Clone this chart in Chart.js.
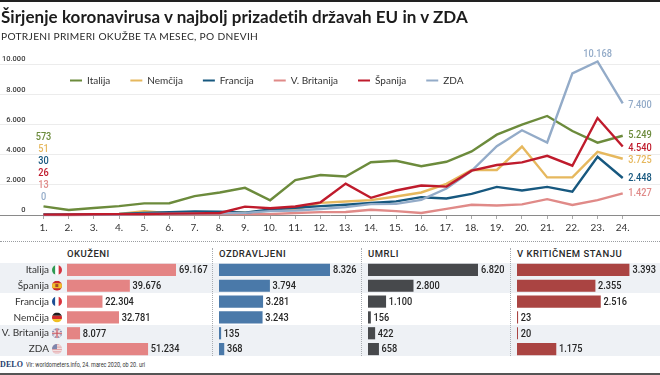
<!DOCTYPE html>
<html lang="sl"><head><meta charset="utf-8">
<style>
html,body{margin:0;padding:0;background:#fff;width:660px;height:375px;overflow:hidden}
#wrap{position:relative;width:660px;height:375px;font-family:Lato,"Open Sans",sans-serif;color:#222}
canvas{position:absolute;display:block}
.abs{position:absolute;white-space:nowrap}
#title{left:1px;top:6px;font:700 17px Lato,sans-serif;color:#1c1c1c;letter-spacing:.05px}
#sub{left:1px;top:30px;font:400 10.2px Lato,sans-serif;color:#2a2a2a;letter-spacing:.3px}
.head{top:248px;font:500 9.5px Roboto,sans-serif;color:#2a2a2a;letter-spacing:.5px}
.stripe{position:absolute;left:0;width:660px;background:#eef1f5}
.vd{position:absolute;top:248px;height:108px;width:0;border-left:1px dotted #a9adb2}
#src{left:26px;top:361px;font:400 7px Roboto,sans-serif;color:#333;transform:scaleX(.78);transform-origin:left center}
#delo{left:0;top:360px;font:700 8px "Liberation Serif",serif;color:#24406e;letter-spacing:.1px}
</style></head><body>
<div id="wrap">
<div style="position:absolute;left:0;top:0;width:660px;height:1.5px;background:#222"></div>
<div style="position:absolute;left:0;top:241px;width:660px;height:0;border-top:1px dotted #9a9da1"></div>
<div class="stripe" style="top:262.5px;height:30.5px"></div>
<div class="stripe" style="top:325px;height:31px"></div>
<div class="vd" style="left:212px"></div><div class="vd" style="left:361px"></div><div class="vd" style="left:510px"></div>
<div style="position:absolute;left:0;top:373px;width:660px;height:2px;background:#555"></div>
<canvas id="line" width="660" height="240" style="left:0;top:0"></canvas>
<canvas id="b0" width="212" height="95" style="left:0;top:262px"></canvas>
<canvas id="b1" width="142" height="95" style="left:219px;top:262px"></canvas>
<canvas id="b2" width="142" height="95" style="left:368px;top:262px"></canvas>
<canvas id="b3" width="142" height="95" style="left:517px;top:262px"></canvas>
<div class="abs" id="title">Širjenje koronavirusa v najbolj prizadetih državah EU in v ZDA</div>
<div class="abs" id="sub">POTRJENI PRIMERI OKUŽBE TA MESEC, PO DNEVIH</div>
<div class="abs head" style="left:67px">OKUŽENI</div>
<div class="abs head" style="left:219px">OZDRAVLJENI</div>
<div class="abs head" style="left:368px">UMRLI</div>
<div class="abs head" style="left:517px">V KRITIČNEM STANJU</div>
<div class="abs" id="delo">DELO</div>
<div class="abs" id="src">Vir: worldometers.info, 24. marec 2020, ob 20. uri</div>
</div>
<script src="https://cdn.jsdelivr.net/npm/chart.js@4"></script>
<script>
const days = ['1.','2.','3.','4.','5.','6.','7.','8.','9.','10.','11.','12.','13.','14.','15.','16.','17.','18.','19.','20.','21.','22.','23.','24.'];
const yTicks = [0,2000,4000,6000,8000,10000];

const italija  = [573,335,466,587,769,778,1247,1492,1797,977,2313,2651,2547,3497,3590,3233,3526,4207,5322,5986,6557,5560,4789,5249];
const nemcija  = [51,29,37,66,250,120,130,180,160,300,360,800,895,985,1225,1490,2060,2980,2980,4530,2490,2490,4180,3725];
const francija = [30,30,60,70,140,190,240,220,150,360,480,590,680,790,900,1180,1090,1400,1860,1620,1860,1550,3850,2448];
const britanija= [13,4,12,30,30,40,50,70,60,60,130,190,200,350,260,130,410,680,630,700,1050,660,980,1427];
const spanija  = [26,30,50,60,60,90,110,130,557,450,560,840,2079,1138,1620,1950,1880,2935,3310,3487,3920,3265,6420,4540];
const zda      = [0,20,20,30,70,80,100,120,140,260,300,400,520,720,740,1005,1750,2930,4560,5610,4800,9380,10168,7400];

const rows = ['Italija','Španija','Francija','Nemčija','V. Britanija','ZDA'];
const okuzeni     = [69167,39676,22304,32781,8077,51234];
const ozdravljeni = [8326,3794,3281,3243,135,368];
const umrli       = [6820,2800,1100,156,422,658];
const kriticni    = [3393,2355,2516,23,20,1175];

const fmt = v => String(v).replace(/\B(?=(\d{3})+(?!\d))/g,'.');
const NUM_FONT = '500 11.5px Roboto,sans-serif';
function narrowText(x,t,px,py,align){
 x.save(); x.translate(px,py); x.scale(.8,1); x.textAlign=align; x.textBaseline='middle'; x.font=NUM_FONT;
 x.fillText(t,0,0); x.restore();
}

const series = [
 {label:'Italija', data:italija, color:'#6c8b3c', order:5, nudge:-1},
 {label:'Nemčija', data:nemcija, color:'#e6b85e', order:4, nudge:1.5},
 {label:'Francija',data:francija,color:'#17587f', order:2, nudge:0.5},
 {label:'V. Britanija',data:britanija,color:'#e08a88', order:3, nudge:-0.5},
 {label:'Španija', data:spanija, color:'#bf1b2c', order:0, nudge:2},
 {label:'ZDA',     data:zda,     color:'#93abc8', order:1, nudge:2}
];
const startStack = ['Italija','Nemčija','Francija','Španija','V. Britanija','ZDA'];

const linePlugin = {
 id:'lineLabels',
 afterLayout(c){ const l=c.legend, h=l.bottom-l.top; l.left=50; l.top=55.5; l.bottom=55.5+h+10; },
 afterDatasetsDraw(c){
  const x = c.ctx; x.save();
  const x0 = c.scales.x.getPixelForValue(1);
  startStack.forEach((name,i)=>{
   const s = series.find(d=>d.label===name);
   x.fillStyle=s.color;
   narrowText(x,fmt(s.data[0]),x0,137+i*12,'center');
  });
  series.forEach((s,i)=>{
   const pts=c.getDatasetMeta(i).data, p=pts[pts.length-1];
   x.fillStyle=s.color;
   narrowText(x,fmt(s.data[s.data.length-1]),p.x+5.5,p.y+s.nudge,'left');
  });
  const us=series[5], k=us.data.indexOf(Math.max(...us.data)), pk=c.getDatasetMeta(5).data[k];
  x.fillStyle=us.color;
  narrowText(x,fmt(us.data[k]),pk.x,pk.y-7.5,'center');
  x.restore();
 }
};

new Chart(document.getElementById('line'),{
 type:'line',
 data:{datasets:series.map(s=>({label:s.label,data:s.data.map((v,i)=>({x:i+1,y:v})),
   borderColor:s.color,backgroundColor:s.color,borderWidth:2.4,pointRadius:0,tension:0,order:s.order,clip:false,borderJoinStyle:'miter'}))},
 plugins:[linePlugin],
 options:{responsive:false,animation:false,
  layout:{padding:{top:24,left:0,right:0,bottom:0}},
  plugins:{tooltip:{enabled:false},
   legend:{display:true,position:'top',align:'start',
    labels:{boxWidth:12,boxHeight:2,padding:20,color:'#333',font:{family:'Lato,sans-serif',size:10},
     generateLabels:c=>c.data.datasets.map((d,i)=>({text:d.label,fillStyle:d.borderColor,strokeStyle:d.borderColor,lineWidth:0,datasetIndex:i,fontColor:'#333'}))}}},
  scales:{
   x:{type:'linear',min:-0.727,max:25.48,
    afterBuildTicks:s=>{s.ticks=days.map((d,i)=>({value:i+1}));},
    afterFit:s=>{s.height=25;},
    grid:{drawOnChartArea:false,drawTicks:true,tickLength:4,color:'#aaa'},
    border:{color:'#8a8a8a',width:1},
    ticks:{autoSkip:false,maxRotation:0,padding:3,color:'#333',font:{family:'Lato,sans-serif',size:10},callback:v=>days[v-1]}},
   y:{min:0,max:10000,
    afterBuildTicks:s=>{s.ticks=yTicks.map(v=>({value:v}));},
    afterFit:s=>{s.width=0;},
    grid:{color:'#ececec',drawTicks:false,lineWidth:1},
    border:{display:false},
    ticks:{mirror:true,crossAlign:'far',padding:2,labelOffset:-4.5,color:'#3a3a3a',font:{family:'Roboto,sans-serif',size:7.5,weight:'500'},callback:v=>fmt(v)}}
  }}
});

const flags = {
 'Italija':(x,r,cx,cy)=>{[['#2f9a52',-r,r*2/3],['#fff',-r/3,r*2/3],['#d4333f',r/3,r*2/3]].forEach(b=>{x.fillStyle=b[0];x.fillRect(cx+b[1],cy-r,b[2],r*2);});},
 'Španija':(x,r,cx,cy)=>{x.fillStyle='#c8292f';x.fillRect(cx-r,cy-r,2*r,2*r);x.fillStyle='#f2bf2e';x.fillRect(cx-r,cy-r/2,2*r,r);x.fillStyle='#a4482c';x.fillRect(cx-r/3,cy-r/3,r*.6,r*.6);},
 'Francija':(x,r,cx,cy)=>{[['#1d4f95',-r,r*2/3],['#fff',-r/3,r*2/3],['#d8323c',r/3,r*2/3]].forEach(b=>{x.fillStyle=b[0];x.fillRect(cx+b[1],cy-r,b[2],r*2);});},
 'Nemčija':(x,r,cx,cy)=>{[['#1e1e1e',-r],['#d12b2b',-r/3],['#f0bf22',r/3]].forEach(b=>{x.fillStyle=b[0];x.fillRect(cx-r,cy+b[1],2*r,r*2/3);});},
 'V. Britanija':(x,r,cx,cy)=>{x.fillStyle='#6a6f9e';x.fillRect(cx-r,cy-r,2*r,2*r);x.strokeStyle='#e9dfe3';x.lineWidth=2;x.beginPath();x.moveTo(cx-r,cy-r);x.lineTo(cx+r,cy+r);x.moveTo(cx+r,cy-r);x.lineTo(cx-r,cy+r);x.stroke();x.lineWidth=2.6;x.beginPath();x.moveTo(cx-r,cy);x.lineTo(cx+r,cy);x.moveTo(cx,cy-r);x.lineTo(cx,cy+r);x.stroke();x.strokeStyle='#c9555f';x.lineWidth=1.2;x.beginPath();x.moveTo(cx-r,cy);x.lineTo(cx+r,cy);x.moveTo(cx,cy-r);x.lineTo(cx,cy+r);x.stroke();},
 'ZDA':(x,r,cx,cy)=>{x.fillStyle='#e3a5a8';x.fillRect(cx-r,cy-r,2*r,2*r);x.fillStyle='#f3e6e7';for(let k=0;k<4;k++)x.fillRect(cx-r,cy-r+1.2+k*2.4,2*r,1.2);x.fillStyle='#7d86ad';x.fillRect(cx-r,cy-r,r,r);}
};

const flagPlugin = {id:'flags',afterDatasetsDraw(c){
 const x=c.ctx, s=c.scales.y, fx=c.chartArea.left-10, r=5;
 rows.forEach((n,i)=>{const cy=s.getPixelForValue(i);x.save();x.beginPath();x.arc(fx,cy,r,0,Math.PI*2);x.clip();flags[n](x,r,fx,cy);x.restore();});
}};
const valuePlugin = {id:'vals',afterDatasetsDraw(c){
 const x=c.ctx; x.save(); x.fillStyle='#262626';
 c.getDatasetMeta(0).data.forEach((b,i)=>narrowText(x,fmt(c.data.datasets[0].data[i]),b.x+3,b.y+.5,'left'));
 x.restore();
}};

function panel(id,values,color,first,pxWidth){
 const cv=document.getElementById(id);
 const pad=cv.width-pxWidth-(first?67:0);
 new Chart(cv,{type:'bar',
  data:{labels:rows,datasets:[{data:values,backgroundColor:color,barThickness:11.5,borderWidth:0}]},
  plugins:first?[valuePlugin,flagPlugin]:[valuePlugin],
  options:{responsive:false,animation:false,indexAxis:'y',
   layout:{padding:{left:0,right:pad,top:0,bottom:0}},
   plugins:{legend:{display:false},tooltip:{enabled:false}},
   scales:{
    x:{display:false,min:0,max:Math.max(...values)},
    y:{display:first,afterFit:first?(s=>{s.width=67;s.paddingTop=0;s.paddingBottom=0;}):undefined,grid:{display:false,drawTicks:false},border:{display:false},
      ticks:{padding:18,color:'#333',font:{family:'Lato,sans-serif',size:10}}}
   }}});
}
panel('b0',okuzeni,'#e48484',true,109);
panel('b1',ozdravljeni,'#4a79a9',false,111);
panel('b2',umrli,'#47494c',false,110);
panel('b3',kriticni,'#aa4442',false,112.5);
</script>
</body></html>
